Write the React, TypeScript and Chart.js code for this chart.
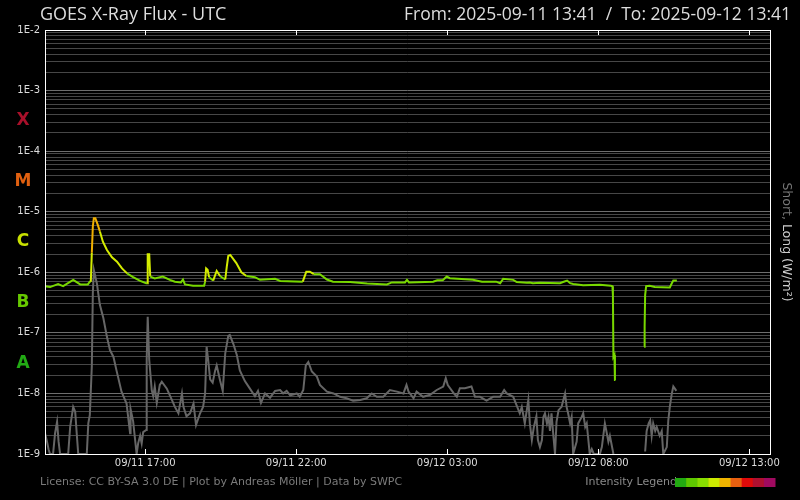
import { useEffect, useRef } from "react";
import { Chart, registerables } from "chart.js";

Chart.register(...registerables);

// ---- time frame (minutes from 2025-09-11 13:41 UTC) ----
const START_UTC = Date.UTC(2025, 8, 11, 13, 41);
const RANGE_MINUTES = 1440;
const xTickMinutes = [199, 499, 799, 1099, 1399];

// ---- y axis ----
const yMinExp = -9;
const yMaxExp = -2;

// ---- flare classes ----
const flareClasses = ["A", "B", "C", "M", "X"];
const flareClassValues = [3.16e-8, 3.16e-7, 3.16e-6, 3.16e-5, 3.16e-4];
const flareClassColors = ["#22aa14", "#66c800", "#c8e000", "#e06010", "#a8102a"];

// ---- intensity legend ----
const legendColors = ["#22aa11", "#5ec800", "#88dd00", "#ccea00", "#f0b400", "#e86010", "#e00a0a", "#b01030", "#a00a60"];

// ---- long channel (0.1-0.8 nm) ----
const longMinutes = [
  0, 10, 26, 36, 56, 70, 85, 89, 91, 93,
  95, 97, 100, 105, 109, 115, 123, 133, 143, 153,
  163, 175, 189, 201, 203, 204, 207, 209, 218, 234,
  248, 258, 270, 274, 278, 294, 316, 318, 320, 323,
  326, 334, 341, 348, 358, 361, 364, 368, 380, 390,
  400, 417, 427, 457, 467, 512, 519, 526, 534, 546,
  560, 572, 606, 640, 679, 689, 715, 719, 723, 771,
  779, 790, 798, 804, 850, 868, 896, 904, 910, 930,
  937, 957, 963, 969, 983, 1023, 1029, 1037, 1043, 1049,
  1069, 1102, 1124, 1127, 1128, 1129, 1131, 1132, 1133, 1160,
  1190, 1191, 1192, 1194, 1201, 1211, 1241, 1245, 1248, 1255,
];
const longFlux = [
  5.9e-7, 5.7e-7, 6.4e-7, 5.9e-7, 7.5e-7, 6.3e-7, 6.3e-7, 7.0e-7, 7.0e-7, 2.1e-6,
  5.7e-6, 7.8e-6, 7.8e-6, 6.0e-6, 4.7e-6, 3.2e-6, 2.33e-6, 1.77e-6, 1.5e-6, 1.16e-6,
  9.6e-7, 8.3e-7, 7.2e-7, 6.6e-7, 6.6e-7, 1.98e-6, 1.98e-6, 8.5e-7, 7.9e-7, 8.5e-7,
  7.5e-7, 7.0e-7, 6.8e-7, 7.6e-7, 6.3e-7, 6.0e-7, 6.0e-7, 7.0e-7, 1.16e-6, 1.1e-6,
  8.3e-7, 7.3e-7, 1.05e-6, 8.6e-7, 7.6e-7, 1.23e-6, 1.86e-6, 1.93e-6, 1.42e-6, 1.0e-6,
  8.7e-7, 8.3e-7, 7.5e-7, 7.8e-7, 7.2e-7, 7.0e-7, 1.02e-6, 1.02e-6, 9.3e-7, 9.3e-7,
  7.6e-7, 7.0e-7, 6.9e-7, 6.5e-7, 6.3e-7, 6.8e-7, 6.8e-7, 7.5e-7, 6.8e-7, 7.0e-7,
  7.4e-7, 7.4e-7, 8.5e-7, 8.0e-7, 7.5e-7, 7.0e-7, 7.0e-7, 6.6e-7, 7.8e-7, 7.5e-7,
  6.9e-7, 6.7e-7, 6.8e-7, 6.6e-7, 6.7e-7, 6.6e-7, 6.9e-7, 7.3e-7, 6.6e-7, 6.4e-7,
  6.1e-7, 6.2e-7, 6.0e-7, 5.9e-7, 4.2e-7, 4.0e-8, 4.3e-8, 1.67e-8, 1.67e-8, null,
  5.9e-8, 1.26e-7, 4.2e-7, 5.9e-7, 6.0e-7, 5.7e-7, 5.6e-7, 6.6e-7, 7.3e-7, 7.3e-7,
];

// ---- short channel (0.05-0.4 nm) ----
const shortMinutes = [
  0, 4, 7, 10, 16, 20, 24, 27, 30, 46,
  50, 56, 60, 63, 66, 83, 86, 89, 93, 95,
  97, 103, 109, 116, 123, 129, 136, 142, 152, 162,
  169, 170, 175, 182, 185, 189, 192, 195, 201, 202,
  204, 207, 212, 215, 218, 222, 228, 232, 242, 252,
  258, 265, 272, 275, 281, 288, 295, 300, 308, 314,
  318, 321, 324, 328, 333, 338, 341, 348, 353, 358,
  364, 367, 374, 381, 387, 397, 407, 417, 423, 429,
  437, 447, 457, 467, 473, 480, 487, 500, 506, 513,
  518, 523, 530, 540, 546, 560, 573, 586, 599, 612,
  626, 639, 649, 659, 672, 685, 699, 712, 718, 722,
  732, 738, 751, 765, 778, 791, 796, 800, 812, 818,
  824, 834, 847, 854, 864, 877, 890, 904, 912, 917,
  930, 943, 947, 953, 960, 963, 967, 971, 976, 979,
  983, 987, 990, 993, 997, 1000, 1003, 1006, 1010, 1013,
  1016, 1020, 1026, 1033, 1036, 1039, 1043, 1046, 1049, 1056,
  1059, 1066, 1069, 1073, 1076, 1082, 1086, 1090, 1102, 1106,
  1112, 1115, 1119, 1122, 1129, 1160, 1192, 1195, 1199, 1202,
  1205, 1208, 1212, 1215, 1221, 1225, 1228, 1235, 1238, 1241,
  1245, 1248, 1251, 1254,
];
const shortFlux = [
  2.2e-9, 1.6e-9, 1.2e-9, 1e-9, 1e-9, 2.2e-9, 3.4e-9, 1.6e-9, 1e-9, 1e-9,
  2.8e-9, 6.0e-9, 5.0e-9, 2.2e-9, 1e-9, 1e-9, 3.2e-9, 4.4e-9, 2.8e-8, 4.5e-7,
  1.09e-6, 6.6e-7, 2.9e-7, 1.74e-7, 8.6e-8, 5.2e-8, 4.0e-8, 2.4e-8, 1.07e-8, 6.8e-9,
  2.2e-9, 5.5e-9, 3.5e-9, 1e-9, 1.5e-9, 2e-9, 1.5e-9, 2.3e-9, 2.5e-9, 3.6e-8,
  1.85e-7, 3.6e-8, 1.14e-8, 9e-9, 1.3e-8, 7e-9, 1.38e-8, 1.56e-8, 1.2e-8, 7.8e-9,
  6e-9, 4.7e-9, 1e-8, 6e-9, 4.2e-9, 4.7e-9, 6.8e-9, 3e-9, 4.7e-9, 6e-9,
  1e-8, 5.9e-8, 3.6e-8, 1.7e-8, 1.5e-8, 2.4e-8, 2.9e-8, 1.6e-8, 1.1e-8, 4.6e-8,
  8.9e-8, 9.2e-8, 6.6e-8, 4.3e-8, 2.4e-8, 1.6e-8, 1.2e-8, 9e-9, 1.1e-8, 7e-9,
  1e-8, 8.5e-9, 1.1e-8, 1.14e-8, 1.0e-8, 1.1e-8, 9.3e-9, 1.0e-8, 8.8e-9, 1.14e-8,
  2.9e-8, 3.3e-8, 2.3e-8, 1.9e-8, 1.38e-8, 1.07e-8, 1.0e-8, 8.8e-9, 8.3e-9, 7.6e-9,
  7.8e-9, 8.3e-9, 1.0e-8, 8.8e-9, 8.8e-9, 1.14e-8, 1.07e-8, 1.0e-8, 1.38e-8, 1.07e-8,
  8.3e-9, 1.07e-8, 8.8e-9, 9.5e-9, 1.14e-8, 1.3e-8, 1.78e-8, 1.38e-8, 1.0e-8, 8.8e-9,
  1.22e-8, 1.22e-8, 1.3e-8, 8.8e-9, 8.8e-9, 7.6e-9, 8.8e-9, 8.8e-9, 1.14e-8, 1.0e-8,
  8.8e-9, 4.7e-9, 6e-9, 3.2e-9, 7.8e-9, 3.2e-9, 1.7e-9, 2.8e-9, 4.2e-9, 1.7e-9,
  1.3e-9, 1.7e-9, 4.1e-9, 4.7e-9, 3.2e-9, 4.1e-9, 2.4e-9, 4.7e-9, 1.9e-9, 1e-9,
  3.4e-9, 5.3e-9, 6e-9, 1e-8, 6e-9, 4.7e-9, 3.2e-9, 4.1e-9, 1e-9, 1.6e-9,
  3.2e-9, 4.1e-9, 4.7e-9, 2.8e-9, 3.2e-9, 1e-9, 1.2e-9, 1e-9, 1e-9, 1.3e-9,
  3.2e-9, 2.4e-9, 1.6e-9, 2e-9, 1e-9, null, 1.1e-9, 2.4e-9, 3.2e-9, 3.6e-9,
  2e-9, 3.2e-9, 2.4e-9, 2.8e-9, 2.0e-9, 2.4e-9, 1e-9, 1.3e-9, 3.6e-9, 6e-9,
  1e-8, 1.3e-8, 1.2e-8, 1.1e-8,
];

const TITLE = "GOES X-Ray Flux - UTC";
const RANGE_TEXT = "From: 2025-09-11 13:41  /  To: 2025-09-12 13:41";
const FOOTER = "License: CC BY-SA 3.0 DE | Plot by Andreas Möller | Data by SWPC";
const LEGEND_TEXT = "Intensity Legend";

const pad = (n: number) => String(n).padStart(2, "0");
const fmtMinute = (m: number) => {
  const d = new Date(START_UTC + m * 60000);
  return `${pad(d.getUTCMonth() + 1)}/${pad(d.getUTCDate())} ${pad(d.getUTCHours())}:${pad(d.getUTCMinutes())}`;
};
const isDecade = (v: number) => {
  const e = Math.log10(v);
  return Math.abs(e - Math.round(e)) < 1e-6;
};
const fluxColor = (v: number) => (v >= 5e-6 ? "#f0b000" : v >= 1e-6 ? "#d4ec00" : "#78d800");

const toPoints = (xs: number[], ys: (number | null)[]) => xs.map((x, i) => ({ x, y: ys[i] }));

const overlayPlugin = {
  id: "goesOverlay",
  afterDraw(chart: any) {
    const { ctx, chartArea } = chart;
    const { left, right, top, bottom } = chartArea;
    const xs = chart.scales.x;
    const ys = chart.scales.y;
    ctx.save();
    // frame
    ctx.strokeStyle = "#ffffff";
    ctx.lineWidth = 1;
    ctx.strokeRect(Math.round(left) + 0.5, Math.round(top) + 0.5, Math.round(right - left), Math.round(bottom - top));
    // inward tick marks
    xTickMinutes.forEach((m) => {
      const px = Math.round(xs.getPixelForValue(m)) + 0.5;
      ctx.beginPath();
      ctx.moveTo(px, top);
      ctx.lineTo(px, top + 5);
      ctx.moveTo(px, bottom);
      ctx.lineTo(px, bottom - 5);
      ctx.stroke();
    });
    // flare class letters
    ctx.font = 'bold 17px "DejaVu Sans"';
    ctx.textAlign = "center";
    ctx.textBaseline = "middle";
    flareClasses.forEach((c, i) => {
      ctx.fillStyle = flareClassColors[i];
      ctx.fillText(c, 23, ys.getPixelForValue(flareClassValues[i]));
    });
    // title
    ctx.textBaseline = "alphabetic";
    ctx.font = '18px "Open Sans"';
    ctx.fillStyle = "#dddddd";
    ctx.textAlign = "left";
    ctx.fillText(TITLE, 40, 20);
    ctx.font = '17.5px "Open Sans"';
    ctx.textAlign = "right";
    ctx.fillText(RANGE_TEXT, 791, 20);
    // right axis title (rotated)
    ctx.save();
    ctx.translate(780, 242);
    ctx.rotate(Math.PI / 2);
    ctx.font = '12.5px "DejaVu Sans"';
    ctx.textAlign = "left";
    ctx.textBaseline = "middle";
    const part1 = "Short, ";
    const part2 = "Long (W/m²)";
    const w1 = ctx.measureText(part1).width;
    const w2 = ctx.measureText(part2).width;
    const startX = -(w1 + w2) / 2;
    ctx.fillStyle = "#777777";
    ctx.fillText(part1, startX, -6);
    ctx.fillStyle = "#cccccc";
    ctx.fillText(part2, startX + w1, -6);
    ctx.restore();
    // footer
    ctx.font = '11px "DejaVu Sans"';
    ctx.fillStyle = "#7a7a7a";
    ctx.textAlign = "left";
    ctx.textBaseline = "middle";
    ctx.fillText(FOOTER, 40, 482);
    ctx.fillStyle = "#8a8a8a";
    ctx.textAlign = "right";
    ctx.fillText(LEGEND_TEXT, 677, 482);
    const bw = 100 / legendColors.length;
    legendColors.forEach((c, i) => {
      ctx.fillStyle = c;
      ctx.fillRect(675 + i * bw, 478, bw + 0.5, 9);
    });
    ctx.restore();
  },
};

export default function App() {
  const canvasRef = useRef<HTMLCanvasElement | null>(null);

  useEffect(() => {
    document.body.style.margin = "0";
    document.body.style.background = "#000";
    const canvas = canvasRef.current;
    if (!canvas) return;

    const chart = new Chart(canvas, {
      type: "line",
      data: {
        datasets: [
          {
            label: "Long",
            data: toPoints(longMinutes, longFlux) as any,
            borderWidth: 2,
            pointRadius: 0,
            spanGaps: false,
            borderColor: "#78d800",
            segment: {
              borderColor: (c: any) => fluxColor(Math.max(c.p0.parsed.y, c.p1.parsed.y)),
            },
          },
          {
            label: "Short",
            data: toPoints(shortMinutes, shortFlux) as any,
            borderWidth: 2,
            pointRadius: 0,
            spanGaps: false,
            borderColor: "#666666",
          },
        ],
      },
      options: {
        responsive: false,
        animation: false,
        events: [],
        layout: { padding: { top: 30, right: 30, bottom: 26, left: 0 } },
        plugins: { legend: { display: false }, tooltip: { enabled: false }, title: { display: false } },
        scales: {
          x: {
            type: "linear",
            min: 0,
            max: RANGE_MINUTES,
            grid: { display: false, drawTicks: false },
            border: { display: false },
            afterFit: (s: any) => {
              s.height = 20;
            },
            afterBuildTicks: (s: any) => {
              s.ticks = xTickMinutes.map((v) => ({ value: v }));
            },
            ticks: {
              autoSkip: false,
              maxRotation: 0,
              padding: 3,
              color: "#dddddd",
              font: { family: "DejaVu Sans", size: 10 },
              callback: (v: any) => fmtMinute(Number(v)),
            },
          },
          y: {
            type: "logarithmic",
            min: Math.pow(10, yMinExp),
            max: Math.pow(10, yMaxExp),
            border: { display: false },
            grid: {
              drawTicks: false,
              lineWidth: 1,
              color: (c: any) => (c.tick && isDecade(c.tick.value) ? "#6e6e6e" : "#474747"),
            },
            afterFit: (s: any) => {
              s.width = 45;
            },
            afterBuildTicks: (s: any) => {
              const t: any[] = [];
              for (let e = yMinExp; e <= yMaxExp; e++) {
                for (let m = 1; m <= 9; m++) {
                  if (e === yMaxExp && m > 1) break;
                  t.push({ value: Number((m * Math.pow(10, e)).toPrecision(3)), major: m === 1 });
                }
              }
              s.ticks = t;
            },
            ticks: {
              autoSkip: false,
              padding: 5,
              color: "#dddddd",
              font: { family: "DejaVu Sans", size: 10 },
              callback: (v: any) => (isDecade(Number(v)) ? "1E" + Math.round(Math.log10(Number(v))) : ""),
            },
          },
        },
      },
      plugins: [overlayPlugin],
    } as any);

    return () => chart.destroy();
  }, []);

  return (
    <div style={{ position: "fixed", left: 0, top: 0, width: 800, height: 500, background: "#000" }}>
      <canvas ref={canvasRef} width={800} height={500} style={{ display: "block" }} />
    </div>
  );
}
